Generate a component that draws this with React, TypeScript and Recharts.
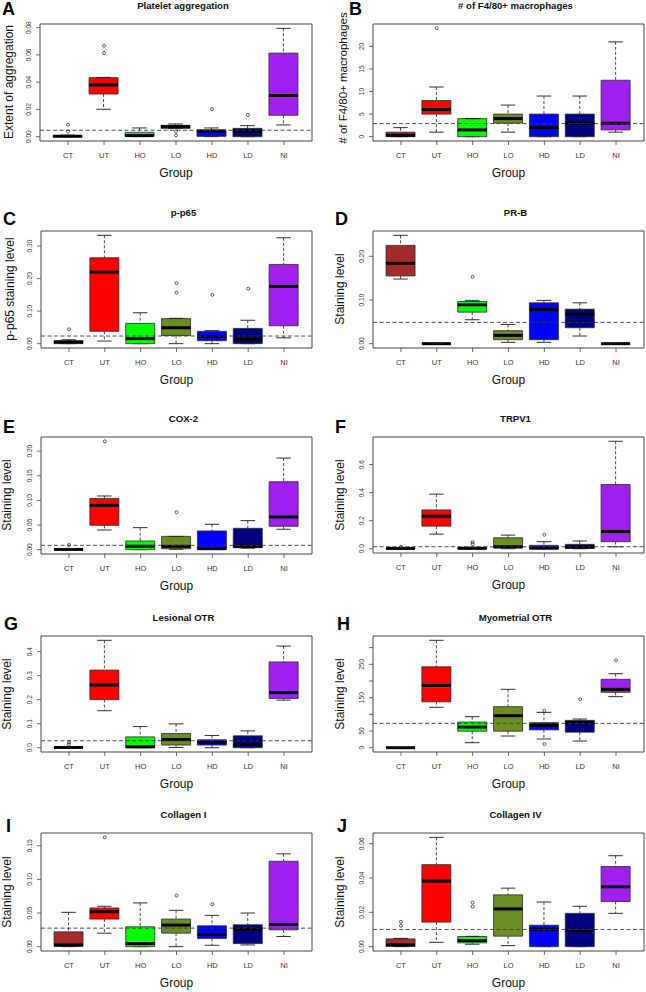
import React from 'react';
import { ComposedChart, Bar, Scatter, XAxis, YAxis, ReferenceLine, ReferenceArea } from 'recharts';

const FONT = '"Liberation Sans", Arial, Helvetica, sans-serif';
const INK = '#1a1a1a';

const groups = ['CT', 'UT', 'HO', 'LO', 'HD', 'LD', 'NI'];
const groupColors = ['#A52A2A', '#FF0000', '#00FF00', '#6B8E23', '#0000FF', '#000080', '#A020F0'];

// Each row: [lower whisker, Q1, median, Q3, upper whisker] for CT, UT, HO, LO, HD, LD, NI
// Outliers: [group position (1..7), value]

// A - Platelet aggregation
const plateletBox = [
  [0, 0, 0.0003, 0.0007, 0.0012],
  [0.0201, 0.0313, 0.038, 0.0433, 0.0435],
  [0, 0.0003, 0.0008, 0.0032, 0.0064],
  [0.006, 0.0061, 0.0074, 0.0083, 0.0093],
  [0, 0.0002, 0.0042, 0.0047, 0.0064],
  [0, 0, 0.0042, 0.0061, 0.0081],
  [0.0086, 0.0157, 0.0302, 0.0613, 0.0795],
];
const plateletOut = [[1, 0.0037], [1, 0.0088], [2, 0.0613], [2, 0.0667], [4, 0.0039], [4, 0.001], [5, 0.0201], [6, 0.016]];
const plateletRef = 0.0047;
const plateletTicks = [0, 0.02, 0.04, 0.06, 0.08];
const plateletLabels = ['0.00', '0.02', '0.04', '0.06', '0.08'];

// B - # of F4/80+ macrophages
const macroBox = [
  [0, 0, 0.3, 1, 2],
  [1, 5, 6, 8, 11],
  [0, 0, 1.5, 4, 4],
  [1, 3, 4, 5, 7],
  [0, 0, 2, 5, 9],
  [0, 0, 3, 5, 9],
  [1, 1.5, 3, 12.5, 21],
];
const macroOut = [[2, 24]];
const macroRef = 2.9;
const macroTicks = [0, 5, 10, 15, 20];
const macroLabels = ['0', '5', '10', '15', '20'];

// C - p-p65
const p65Box = [
  [0, 0, 0.005, 0.009, 0.012],
  [0.008, 0.038, 0.22, 0.264, 0.333],
  [0, 0, 0.0154, 0.0624, 0.095],
  [0, 0.025, 0.049, 0.077, 0.078],
  [0, 0.009, 0.0225, 0.038, 0.04],
  [0, 0, 0.013, 0.047, 0.072],
  [0.018, 0.055, 0.176, 0.2436, 0.3255],
];
const p65Out = [[1, 0.044], [4, 0.157], [4, 0.186], [5, 0.15], [6, 0.169]];
const p65Ref = 0.0235;
const p65Ticks = [0, 0.1, 0.2, 0.3];
const p65Labels = ['0.00', '0.10', '0.20', '0.30'];

// D - PR-B
const prbBox = [
  [0.148, 0.155, 0.184, 0.225, 0.248],
  [0, 0, 0, 0, 0],
  [0.0548, 0.0722, 0.089, 0.0966, 0.099],
  [0.003, 0.0091, 0.019, 0.0297, 0.044],
  [0.003, 0.0091, 0.078, 0.0935, 0.099],
  [0.0175, 0.0365, 0.0677, 0.079, 0.0935],
  [0, 0, 0, 0, 0],
];
const prbOut = [[3, 0.153]];
const prbRef = 0.0487;
const prbTicks = [0, 0.1, 0.2];
const prbLabels = ['0.00', '0.10', '0.20'];

// E - COX-2
const coxBox = [
  [0, 0, 0.0005, 0.001, 0.0015],
  [0.04, 0.0495, 0.09, 0.104, 0.109],
  [0, 0, 0.007, 0.0176, 0.0447],
  [0.0007, 0.002, 0.0068, 0.027, 0.027],
  [0.0007, 0.0007, 0.002, 0.038, 0.0515],
  [0.003, 0.004, 0.0068, 0.0434, 0.059],
  [0.0414, 0.0475, 0.0664, 0.138, 0.186],
];
const coxOut = [[1, 0.0095], [2, 0.22], [4, 0.076]];
const coxRef = 0.0088;
const coxTicks = [0, 0.05, 0.1, 0.15, 0.2];
const coxLabels = ['0.00', '0.05', '0.10', '0.15', '0.20'];

// F - TRPV1
const trpBox = [
  [0, 0, 0.002, 0.005, 0.006],
  [0.104, 0.161, 0.232, 0.2766, 0.389],
  [0, 0, 0.003, 0.008, 0.01],
  [0, 0.005, 0.014, 0.078, 0.097],
  [0, 0, 0.004, 0.024, 0.05],
  [0, 0.002, 0.012, 0.031, 0.055],
  [0.014, 0.05, 0.123, 0.458, 0.766],
];
const trpOut = [[1, 0.014], [3, 0.033], [3, 0.047], [5, 0.1]];
const trpRef = 0.014;
const trpTicks = [0, 0.2, 0.4, 0.6];
const trpLabels = ['0.0', '0.2', '0.4', '0.6'];

// G - Lesional OTR
const lesBox = [
  [0, 0, 0.001, 0.003, 0.004],
  [0.154, 0.2, 0.261, 0.323, 0.447],
  [0, 0, 0.004, 0.045, 0.088],
  [0.001, 0.011, 0.034, 0.059, 0.099],
  [0, 0.011, 0.022, 0.033, 0.051],
  [0, 0, 0.0137, 0.0495, 0.07],
  [0.198, 0.205, 0.2295, 0.357, 0.423],
];
const lesOut = [[1, 0.014], [1, 0.022]];
const lesRef = 0.029;
const lesTicks = [0, 0.1, 0.2, 0.3, 0.4];
const lesLabels = ['0.0', '0.1', '0.2', '0.3', '0.4'];

// H - Myometrial OTR
const myoBox = [
  [0, 0, 0, 0.5, 1],
  [121, 137.6, 187, 242.6, 322],
  [15, 49.5, 62, 77, 93],
  [35, 49.5, 96, 123, 175],
  [26, 53.5, 67, 75, 106],
  [20, 46.5, 75, 82, 86],
  [153, 166, 175, 205, 222],
];
const myoOut = [[5, 11], [5, 111], [6, 145.6], [7, 262]];
const myoRef = 73;
const myoTicks = [0, 50, 100, 150, 200, 250, 300];
const myoLabels = ['0', '50', '', '150', '', '250', ''];

// I - Collagen I
const col1Box = [
  [0, 0.0005, 0.0025, 0.022, 0.051],
  [0.02, 0.041, 0.052, 0.0575, 0.06],
  [0, 0, 0.0045, 0.0295, 0.065],
  [0, 0.02, 0.032, 0.041, 0.054],
  [0.002, 0.012, 0.018, 0.031, 0.0465],
  [0.0025, 0.0045, 0.026, 0.0325, 0.05],
  [0.015, 0.025, 0.033, 0.127, 0.138],
];
const col1Out = [[2, 0.1625], [4, 0.076], [5, 0.063]];
const col1Ref = 0.0275;
const col1Ticks = [0, 0.05, 0.1, 0.15];
const col1Labels = ['0.00', '0.05', '0.10', '0.15'];

// J - Collagen IV
const col4Box = [
  [0, 0.0002, 0.001, 0.0045, 0.0048],
  [0.0025, 0.0143, 0.0382, 0.0478, 0.0637],
  [0.0014, 0.0022, 0.0035, 0.0059, 0.006],
  [0.0006, 0.0061, 0.022, 0.0302, 0.0341],
  [0, 0, 0.0102, 0.0125, 0.026],
  [0, 0, 0.0092, 0.0194, 0.0235],
  [0.0194, 0.0263, 0.0349, 0.0467, 0.053],
];
const col4Out = [[1, 0.0122], [1, 0.0145], [3, 0.0233], [3, 0.0257]];
const col4Ref = 0.01;
const col4Ticks = [0, 0.02, 0.04, 0.06];
const col4Labels = ['0.00', '0.02', '0.04', '0.06'];

const panels = [
  { letter: 'A', title: 'Platelet aggregation', ylab: 'Extent of aggregation', ylabSize: 12, box: plateletBox, outs: plateletOut, ref: plateletRef, ticks: plateletTicks, labels: plateletLabels, frame: [40, 24, 312, 141], letterXY: [2, 15], ylabXY: [9, 82] },
  { letter: 'B', title: '# of F4/80+ macrophages', ylab: '# of F4/80+ macrophages', ylabSize: 11.5, box: macroBox, outs: macroOut, ref: macroRef, ticks: macroTicks, labels: macroLabels, frame: [373, 24, 644, 141], letterXY: [349, 15], ylabXY: [343, 78] },
  { letter: 'C', title: 'p-p65', ylab: 'p-p65 staining level', ylabSize: 12, box: p65Box, outs: p65Out, ref: p65Ref, ticks: p65Ticks, labels: p65Labels, frame: [41, 231, 312, 348], letterXY: [3, 225], ylabXY: [10, 289] },
  { letter: 'D', title: 'PR-B', ylab: 'Staining level', ylabSize: 12, box: prbBox, outs: prbOut, ref: prbRef, ticks: prbTicks, labels: prbLabels, frame: [373, 231, 644, 348], letterXY: [335, 225], ylabXY: [340, 289] },
  { letter: 'E', title: 'COX-2', ylab: 'Staining level', ylabSize: 12, box: coxBox, outs: coxOut, ref: coxRef, ticks: coxTicks, labels: coxLabels, frame: [41, 437, 312, 554], letterXY: [3, 433], ylabXY: [7, 495] },
  { letter: 'F', title: 'TRPV1', ylab: 'Staining level', ylabSize: 12, box: trpBox, outs: trpOut, ref: trpRef, ticks: trpTicks, labels: trpLabels, frame: [373, 437, 644, 553], letterXY: [335, 433], ylabXY: [340, 495] },
  { letter: 'G', title: 'Lesional OTR', ylab: 'Staining level', ylabSize: 12, box: lesBox, outs: lesOut, ref: lesRef, ticks: lesTicks, labels: lesLabels, frame: [41, 636, 312, 752], letterXY: [4, 630], ylabXY: [7, 694] },
  { letter: 'H', title: 'Myometrial OTR', ylab: 'Staining level', ylabSize: 12, box: myoBox, outs: myoOut, ref: myoRef, ticks: myoTicks, labels: myoLabels, frame: [373, 636, 644, 752], letterXY: [337, 630], ylabXY: [340, 694] },
  { letter: 'I', title: 'Collagen I', ylab: 'Staining level', ylabSize: 12, box: col1Box, outs: col1Out, ref: col1Ref, ticks: col1Ticks, labels: col1Labels, frame: [41, 833, 312, 951], letterXY: [6, 832], ylabXY: [7, 892] },
  { letter: 'J', title: 'Collagen IV', ylab: 'Staining level', ylabSize: 12, box: col4Box, outs: col4Out, ref: col4Ref, ticks: col4Ticks, labels: col4Labels, frame: [373, 833, 644, 951], letterXY: [337, 832], ylabXY: [340, 892] },
];

const span = (p: any) => {
  const top = Math.min(p.y, p.y + p.height);
  const bot = Math.max(p.y, p.y + p.height);
  return { x: p.x, w: p.width, top, bot };
};

const EmptyShape = () => <g />;

const LowWhisker = (p: any) => {
  if (p.x == null || p.y == null) return <g />;
  const { x, w, top, bot } = span(p);
  const cx = x + w / 2;
  const cw = w / 4;
  return (
    <g>
      <line x1={cx} x2={cx} y1={top} y2={bot} stroke={INK} strokeWidth={0.8} strokeDasharray="3 2" />
      <line x1={cx - cw} x2={cx + cw} y1={bot} y2={bot} stroke={INK} strokeWidth={0.9} />
    </g>
  );
};

const HighWhisker = (p: any) => {
  if (p.x == null || p.y == null) return <g />;
  const { x, w, top, bot } = span(p);
  const cx = x + w / 2;
  const cw = w / 4;
  return (
    <g>
      <line x1={cx} x2={cx} y1={top} y2={bot} stroke={INK} strokeWidth={0.8} strokeDasharray="3 2" />
      <line x1={cx - cw} x2={cx + cw} y1={top} y2={top} stroke={INK} strokeWidth={0.9} />
    </g>
  );
};

const LowBox = (p: any) => {
  if (p.x == null || p.y == null) return <g />;
  const { x, w, top, bot } = span(p);
  const color = p.payload?.color ?? '#888';
  return (
    <g>
      <rect x={x} y={top} width={w} height={bot - top} fill={color} stroke="none" />
      <path d={`M${x},${top}L${x},${bot}L${x + w},${bot}L${x + w},${top}`} fill="none" stroke="#2a2a2a" strokeWidth={0.8} />
    </g>
  );
};

const HighBox = (p: any) => {
  if (p.x == null || p.y == null) return <g />;
  const { x, w, top, bot } = span(p);
  const color = p.payload?.color ?? '#888';
  return (
    <g>
      <rect x={x} y={top} width={w} height={bot - top} fill={color} stroke="none" />
      <path d={`M${x},${bot}L${x},${top}L${x + w},${top}L${x + w},${bot}`} fill="none" stroke="#2a2a2a" strokeWidth={0.8} />
      <line x1={x} x2={x + w} y1={bot} y2={bot} stroke="#000" strokeWidth={3} />
    </g>
  );
};

const OutlierDot = (p: any) => {
  if (p.cx == null || p.cy == null) return <g />;
  return <circle cx={p.cx} cy={p.cy} r={1.5} fill="none" stroke={INK} strokeWidth={0.7} />;
};

const XTick = (props: any) => {
  const { x, y, payload } = props;
  return (
    <text x={x} y={y + 11} textAnchor="middle" fontSize={7.5} fill="#333" stroke="none" style={{ fill: '#333' }} fontFamily={FONT}>
      {groups[Math.round(payload.value) - 1]}
    </text>
  );
};

const makeYTick = (ticks: number[], labels: string[]) => (props: any) => {
  const { x, y, payload } = props;
  let idx = 0;
  let best = Infinity;
  ticks.forEach((t, i) => {
    const d = Math.abs(t - payload.value);
    if (d < best) { best = d; idx = i; }
  });
  const bx = x - 2.7;
  return (
    <text x={bx} y={y} transform={`rotate(-90 ${bx} ${y})`} textAnchor="middle" fontSize={6.6} fill="#333" stroke="none" style={{ fill: '#333' }} fontFamily={FONT}>
      {labels[idx]}
    </text>
  );
};

function Panel({ cfg }: { cfg: any }) {
  const [L, T, R, B] = cfg.frame;
  const px = L < 323 ? 0 : 323;
  const topOff = 30;
  const chartTop = T - topOff;
  const h = (B - T) + topOff + 45;
  const rows = cfg.box.map((s: number[], i: number) => ({
    pos: i + 1,
    color: groupColors[i],
    s0: s[0],
    s1: s[1] - s[0],
    s2: s[2] - s[1],
    s3: s[3] - s[2],
    s4: s[4] - s[3],
  }));
  const outData = cfg.outs.map((o: number[]) => ({ pos: o[0], v: o[1] }));
  const all: number[] = [].concat(...cfg.box).concat(cfg.outs.map((o: number[]) => o[1]));
  const lo = Math.min(...all);
  const hi = Math.max(...all);
  const pad = (hi - lo) * 0.04;
  const domain: [number, number] = [lo - pad, hi + pad];
  const xDomain: [number, number] = [0.22, 7.78];
  return (
    <div style={{ position: 'absolute', left: px, top: chartTop, width: 323, height: h }}>
      <ComposedChart
        width={323}
        height={h}
        data={rows}
        margin={{ top: topOff, right: px + 323 - R, bottom: 15, left: L - px - 24 }}
      >
        <XAxis
          type="number"
          dataKey="pos"
          domain={xDomain}
          allowDataOverflow
          ticks={[1, 2, 3, 4, 5, 6, 7]}
          interval={0}
          tick={XTick}
          tickSize={4}
          tickLine={{ stroke: '#444', strokeWidth: 0.8 }}
          axisLine={false}
          height={30}
        />
        <YAxis
          type="number"
          domain={domain}
          allowDataOverflow
          ticks={cfg.ticks}
          interval={0}
          tick={makeYTick(cfg.ticks, cfg.labels)}
          tickSize={4}
          tickLine={{ stroke: '#444', strokeWidth: 0.8 }}
          axisLine={false}
          width={24}
        />
        <Bar dataKey="s0" stackId="box" barSize={29} shape={EmptyShape} isAnimationActive={false} />
        <Bar dataKey="s1" stackId="box" barSize={29} shape={LowWhisker} isAnimationActive={false} />
        <Bar dataKey="s2" stackId="box" barSize={29} shape={LowBox} isAnimationActive={false} />
        <Bar dataKey="s3" stackId="box" barSize={29} shape={HighBox} isAnimationActive={false} />
        <Bar dataKey="s4" stackId="box" barSize={29} shape={HighWhisker} isAnimationActive={false} />
        <Scatter data={outData} dataKey="v" shape={OutlierDot} isAnimationActive={false} />
        <ReferenceLine y={cfg.ref} stroke="#3a3a3a" strokeWidth={0.9} strokeDasharray="4 2.5" ifOverflow="visible" />
        <ReferenceArea
          x1={xDomain[0]}
          x2={xDomain[1]}
          y1={domain[0]}
          y2={domain[1]}
          fill="none"
          fillOpacity={0}
          stroke="#444"
          strokeWidth={1}
          ifOverflow="visible"
        />
      </ComposedChart>
    </div>
  );
}

function PanelText({ cfg }: { cfg: any }) {
  const [L, T, R, B] = cfg.frame;
  const cx = (L + R) / 2;
  const [lx, ly] = cfg.letterXY;
  const [yx, yy] = cfg.ylabXY;
  const bx = yx + 3.5;
  return (
    <g fontFamily={FONT}>
      <text x={lx} y={ly} fontSize={18} fontWeight="bold" fill="#000">{cfg.letter}</text>
      <text x={cx + 7} y={T - 15.5} fontSize={9.6} fontWeight="bold" fill="#111" textAnchor="middle">{cfg.title}</text>
      <text x={bx} y={yy} fontSize={cfg.ylabSize} fill="#111" textAnchor="middle" transform={`rotate(-90 ${bx} ${yy})`}>{cfg.ylab}</text>
      <text x={cx} y={B + 35.5} fontSize={12} fill="#111" textAnchor="middle">Group</text>
    </g>
  );
}

export default function App() {
  return (
    <div style={{ position: 'absolute', left: 0, top: 0, width: 646, height: 992, background: '#fff', overflow: 'hidden' }}>
      {panels.map((p) => (
        <Panel key={p.letter} cfg={p} />
      ))}
      <svg width={646} height={992} style={{ position: 'absolute', left: 0, top: 0, pointerEvents: 'none' }}>
        {panels.map((p) => (
          <PanelText key={p.letter} cfg={p} />
        ))}
      </svg>
    </div>
  );
}
